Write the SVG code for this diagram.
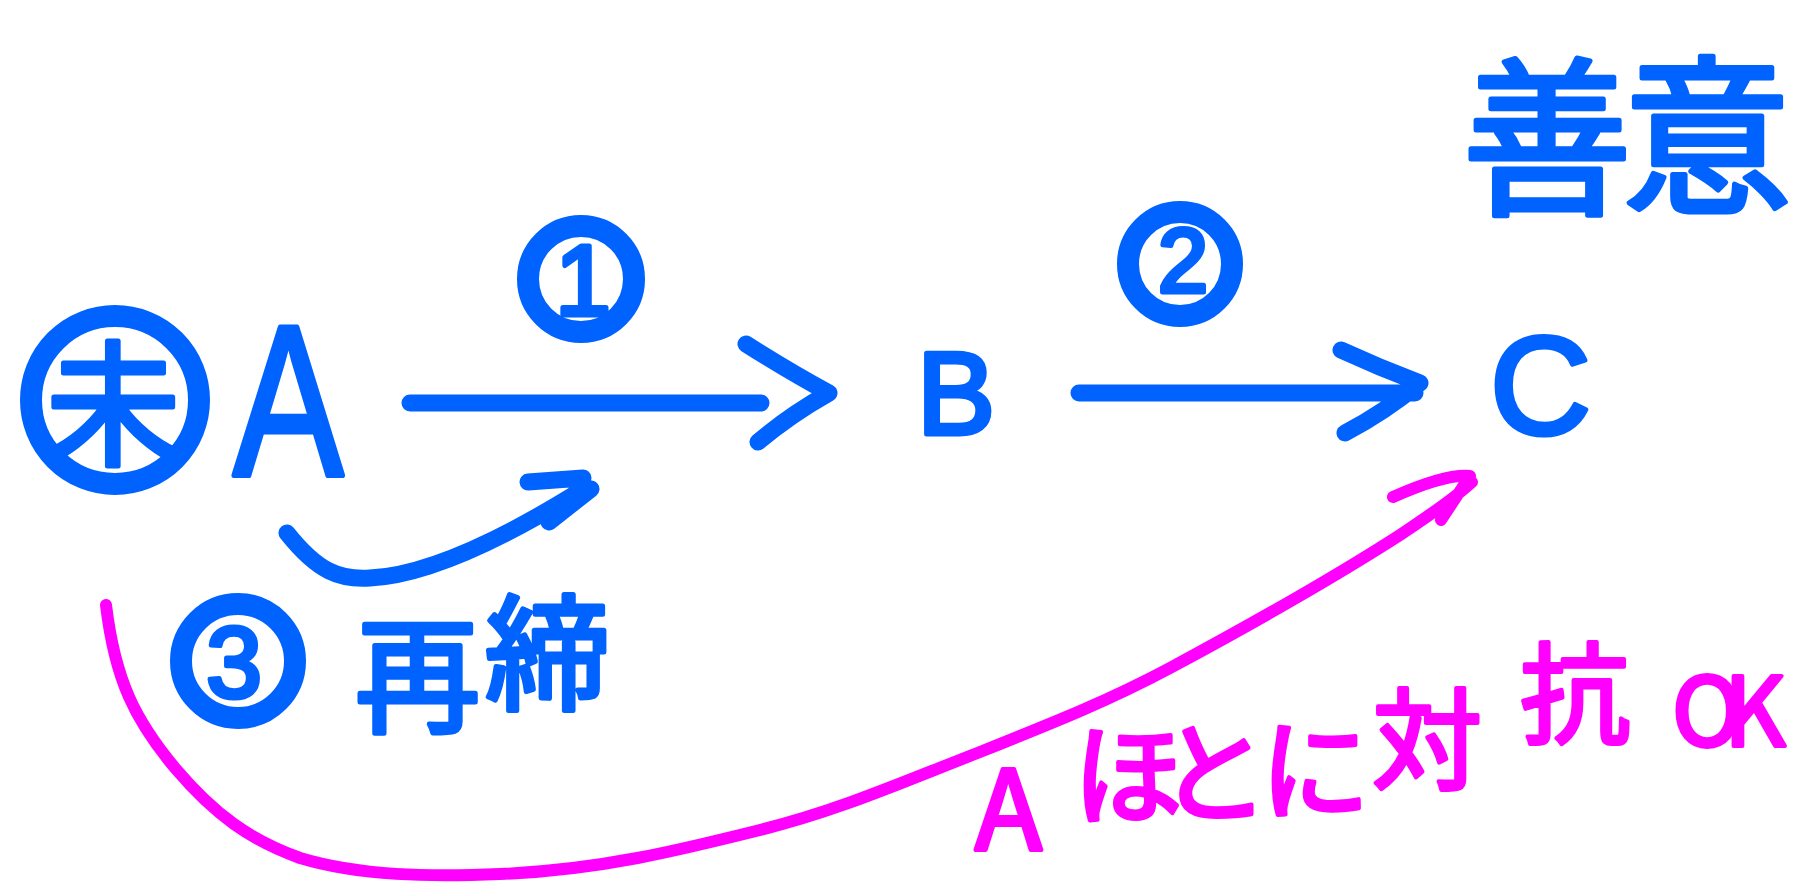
<svg xmlns="http://www.w3.org/2000/svg" width="1800" height="884" viewBox="0 0 1800 884">
<style>
.bg{fill:#ffffff}
.ring{fill:none;stroke:#0062ff;stroke-width:22}
.bl{fill:#0062ff;stroke:#0062ff;stroke-width:5;stroke-linejoin:round}
.pk{fill:#ff00ff;stroke:#ff00ff;stroke-width:4;stroke-linejoin:round}
.lat{font-family:"Liberation Sans",Arial,sans-serif}
.cjk{font-family:"Noto Sans CJK JP","Noto Sans CJK SC",sans-serif}
.cb{fill:none;stroke:#0062ff;stroke-width:17;stroke-linecap:round;stroke-linejoin:round}
.cp{fill:none;stroke:#ff00ff;stroke-width:12;stroke-linecap:round;stroke-linejoin:round}
</style>
<rect class="bg" x="0" y="0" width="1800" height="884"/>

<g id="connectors">
  <path id="arrow-1" class="cb" d="M410,403 L761,403 M746,344 Q790,372 829,393 Q790,415 758,442"/>
  <path id="arrow-2" class="cb" d="M1079,393 L1415,393 M1341,350 Q1380,368 1420,383 Q1385,412 1345,433"/>
  <path id="arrow-3" class="cb" d="M287,533 C318,572 340,580 370,578 C430,575 510,535 585,488 M528,482 L583,478 M549,522 L591,489"/>
  <path id="arrow-pink" class="cp" d="M106,605 C115,680 135,720 175,768 C215,815 250,840 300,858 C360,876 430,877 500,874 C600,870 680,850 760,830 C840,810 900,783 980,752 C1060,720 1110,700 1170,668 C1250,625 1330,580 1400,535 C1430,515 1455,498 1472,482 M1393,497 C1420,485 1450,474 1470,476 L1441,520"/>
</g>

<g id="node-mirai">
  <circle class="ring" cx="115" cy="400" r="84"/>
  <text class="bl cjk" x="113" y="455" font-size="135" text-anchor="middle">未</text>
</g>

<g id="node-A">
  <text class="bl lat" transform="translate(233,475) scale(0.77,1)" x="0" y="0" font-size="215">A</text>
</g>

<g id="node-B">
  <text class="bl lat" x="917" y="434" font-size="117">B</text>
</g>

<g id="node-C">
  <text class="bl lat" x="1490" y="434" font-size="140">C</text>
</g>

<g id="label-1">
  <circle class="ring" cx="581" cy="279" r="53"/>
  <text class="bl lat" x="583" y="315" font-size="100" text-anchor="middle">1</text>
</g>

<g id="label-2">
  <circle class="ring" cx="1180" cy="264" r="52"/>
  <text class="bl lat" x="1183" y="292" font-size="90" text-anchor="middle">2</text>
</g>

<g id="label-3">
  <circle class="ring" cx="238" cy="661" r="57"/>
  <text class="bl lat" x="234" y="697" font-size="100" text-anchor="middle">3</text>
</g>

<g id="label-saitei">
  <text class="bl cjk" x="355 485" y="722 700" font-size="125">再締</text>
</g>

<g id="label-zeni">
  <text class="bl cjk" x="1462 1622" y="202 200" font-size="170">善意</text>
</g>

<g id="label-pink">
  <text class="pk cjk" x="975 1073 1159 1260 1372 1520" y="850 816 814 811 781 735" font-size="110">Aほとに対抗<tspan x="1672 1724" y="746 746" font-size="95">OK</tspan></text>
</g>
</svg>
